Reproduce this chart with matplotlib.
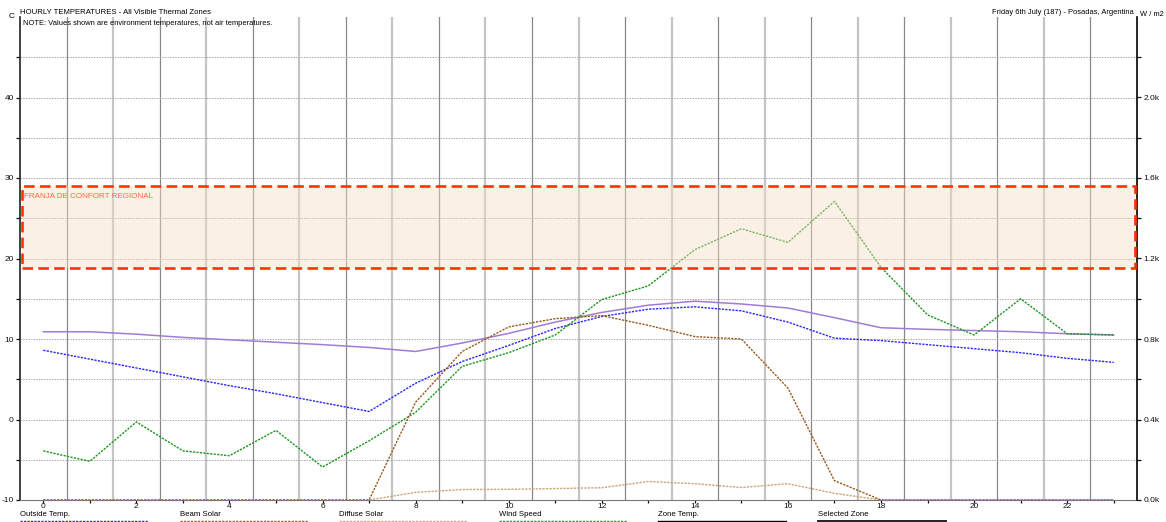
import numpy as np
import matplotlib
matplotlib.use("Agg")
import matplotlib.pyplot as plt
from matplotlib.patches import Rectangle
from matplotlib.lines import Line2D

plt.rcParams['font.family'] = ['Liberation Sans', 'DejaVu Sans']

# hourly data
hours = list(range(24))
outside_temp = [8.6, 7.5, 6.4, 5.3, 4.2, 3.2, 2.1, 1.0, 4.5, 7.2, 9.2, 11.3,
                12.8, 13.7, 14.0, 13.5, 12.1, 10.1, 9.8, 9.3, 8.8, 8.3, 7.6, 7.1]
zone_temp = [10.9, 10.9, 10.6, 10.2, 9.9, 9.6, 9.3, 8.95, 8.45, 9.5, 10.7, 12.1,
             13.3, 14.2, 14.7, 14.35, 13.85, 12.65, 11.4, 11.2, 11.05, 10.9, 10.65, 10.5]
wind_speed = [-3.9, -5.2, -0.3, -3.9, -4.5, -1.35, -5.9, -2.65, 0.9, 6.6, 8.3, 10.5,
              14.9, 16.6, 21.1, 23.7, 22.0, 27.1, 18.9, 13.0, 10.5, 15.0, 10.65, 10.5]
beam_solar = [0, 0, 0, 0, 0, 0, 0, 0, 486, 738, 860, 901,
              916, 868, 812, 800, 556, 96, 0, 0, 0, 0, 0, 0]
diffuse_solar = [0, 0, 0, 0, 0, 0, 0, 0, 38, 52, 53, 57,
                 61, 92, 81, 62, 81, 33, 0, 0, 0, 0, 0, 0]
comfort_band = (18.85, 29.05)

legend_labels = ["Outside Temp.", "Beam Solar", "Diffuse Solar", "Wind Speed",
                 "Zone Temp.", "Selected Zone"]

c_out = '#2626ff'
c_beam = '#9a5a1e'
c_diff = '#c9a476'
c_wind = '#1c961c'
c_zone = '#a07cd6'
dots = (0, (1.6, 0.9))
fs = 5.6

W, H = 1166, 522
fig = plt.figure(figsize=(W / 100, H / 100), dpi=100)
x0, x1, y0, y1 = 20, 1137, 17, 500
ax = fig.add_axes([x0 / W, 1 - y1 / H, (x1 - x0) / W, (y1 - y0) / H])
ax2 = ax.twinx()

ax.set_xlim(-0.5, 23.5)
ax.set_ylim(-10, 50)
ax2.set_ylim(0, 2400)

# grid
for h in np.arange(0.5, 23, 1.0):
    if int(h) % 2 == 0:
        ax.axvline(h, color='#888888', lw=0.9, zorder=1)
    else:
        ax.axvline(h, color='#c4c4c4', lw=1.6, zorder=1)
for t in range(-5, 50, 5):
    ax.axhline(t, color='#a8a8a8', lw=0.7, ls=(0, (1.5, 1.2)), zorder=1)

# series
ax.plot(hours, zone_temp, color=c_zone, lw=1.1, zorder=3)
ax.plot(hours, outside_temp, color=c_out, lw=1.0, ls=dots, zorder=4)
ax.plot(hours, wind_speed, color=c_wind, lw=1.0, ls=dots, zorder=4)
ax2.plot(hours, diffuse_solar, color=c_diff, lw=1.0, ls=dots, zorder=4)
ax2.plot(hours, beam_solar, color=c_beam, lw=1.0, ls=dots, zorder=5)

# comfort band on top (semi transparent fill, opaque dashed edge)
ax2.set_zorder(ax.get_zorder() + 1)
ax2.patch.set_visible(False)
bfrac0 = (comfort_band[0] + 10) / 60
bfrac1 = (comfort_band[1] + 10) / 60
ax2.add_patch(Rectangle((0.002, bfrac0), 0.996, bfrac1 - bfrac0, transform=ax2.transAxes,
                        facecolor='#f4dec7', alpha=0.45, edgecolor='none', zorder=6))
ax2.add_patch(Rectangle((0.002, bfrac0), 0.996, bfrac1 - bfrac0, transform=ax2.transAxes,
                        facecolor='none', edgecolor='#ff3300', lw=1.9,
                        ls=(0, (4, 2)), zorder=6, clip_on=False))
ax2.text(0.004, (comfort_band[1] - 1.3 + 10) / 60, "FRANJA DE CONFORT REGIONAL",
         transform=ax2.transAxes, color='#ff6a3d', fontsize=5.8, ha='left', va='center', zorder=7)

# axes styling
for a in (ax, ax2):
    a.spines['top'].set_visible(False)
ax.spines['left'].set_color('#222222')
ax.spines['left'].set_linewidth(1.2)
ax2.spines['right'].set_color('#000000')
ax2.spines['right'].set_linewidth(1.2)
ax.spines['bottom'].set_color('#777777')
ax2.spines['bottom'].set_visible(False)
ax2.spines['left'].set_visible(False)
ax.spines['right'].set_visible(False)

ax.set_xticks(hours)
ax.set_xticklabels([str(h) if h % 2 == 0 else '' for h in hours])
ax.set_yticks(range(-10, 50, 5))
ax.set_yticklabels([str(t) if t % 10 == 0 else '' for t in range(-10, 50, 5)])
ax.tick_params(axis='y', labelsize=6, length=3, width=0.9, pad=1.5, colors='#111111')
ax.tick_params(axis='x', labelsize=6, length=2, width=0.9, pad=0.5, colors='#111111')
ax2.set_yticks(range(0, 2400, 200))
ax2.set_yticklabels([f"{v / 1000:.1f}k" if v % 400 == 0 and v <= 2000 else ''
                     for v in range(0, 2400, 200)])
ax2.tick_params(axis='y', labelsize=6, length=3, width=0.9, pad=1.5, colors='#111111')

# header texts
fig.text(12 / W, 1 - 17 / H, "C", fontsize=6, ha='center', va='center')
fig.text(20 / W, 1 - 12 / H, "HOURLY TEMPERATURES - All Visible Thermal Zones",
         fontsize=fs, ha='left', va='center')
fig.text(1134 / W, 1 - 12 / H, "Friday 6th July (187) - Posadas, Argentina",
         fontsize=5.4, ha='right', va='center')
fig.text(1140 / W, 1 - 15 / H, "W / m2", fontsize=5.4, ha='left', va='center')
ax.text(0.003, 1 - 7 / (y1 - y0), "NOTE: Values shown are environment temperatures, not air temperatures.",
        transform=ax.transAxes, fontsize=5.4, ha='left', va='center', zorder=8)

# bottom legend
leg_styles = [(c_out, dots, 1.0), (c_beam, dots, 1.0), (c_diff, dots, 1.0),
              (c_wind, dots, 1.0), ('#000000', '-', 1.0), ('#222222', '-', 1.4)]
for i, (lab, (col, ls, lw)) in enumerate(zip(legend_labels, leg_styles)):
    lx = 20 + i * 159.6
    fig.text(lx / W, 1 - 515 / H, lab, fontsize=fs, ha='left', va='center')
    fig.add_artist(Line2D([lx / W, (lx + 128) / W], [1 - 520.5 / H] * 2,
                          color=col, ls=ls, lw=lw, transform=fig.transFigure))

fig.savefig("out.png", dpi=100)
